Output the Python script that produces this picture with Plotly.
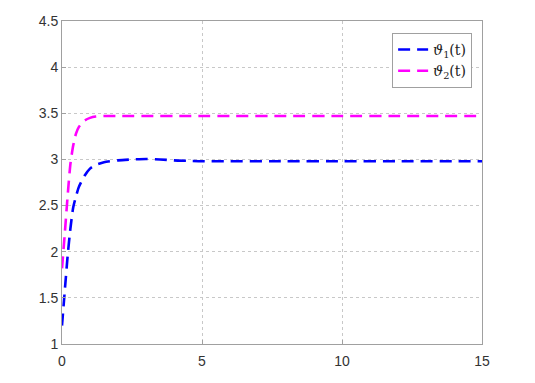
import plotly.graph_objects as go

t = [0, 0.1, 0.2, 0.3, 0.4, 0.5, 0.6, 0.8, 1.0, 1.2, 1.5, 2, 2.5, 3, 3.5, 4, 4.5, 5, 6, 8, 10, 12, 15]
theta1 = [1.2, 1.58, 1.95, 2.25, 2.48, 2.6, 2.7, 2.82, 2.9, 2.94, 2.97, 2.99, 3.0, 3.005, 3.0, 2.99, 2.985, 2.98, 2.98, 2.98, 2.98, 2.98, 2.98]
theta2 = [1.82, 2.2, 2.6, 2.95, 3.15, 3.28, 3.35, 3.42, 3.45, 3.465, 3.47, 3.47, 3.47, 3.47, 3.47, 3.47, 3.47, 3.47, 3.47, 3.47, 3.47, 3.47, 3.47]
names = ["<i>ϑ</i><sub>1</sub>(t)", "<i>ϑ</i><sub>2</sub>(t)"]
colors = ["#0000ff", "#ff00ff"]

fig = go.Figure()
for y, n, c in zip([theta1, theta2], names, colors):
    fig.add_trace(go.Scatter(x=t, y=y, mode="lines", name=n,
                             line=dict(color=c, width=2.6, dash="12px,7px", shape="spline", smoothing=0.6)))

axis_common = dict(showline=True, linecolor="#a0a0a0", linewidth=1, mirror=True,
                   showgrid=True, gridcolor="#c8c8c8", griddash="dot", gridwidth=1,
                   zeroline=False, ticks="inside", ticklen=4, tickcolor="#a0a0a0",
                   automargin=False,
                   tickfont=dict(family="Liberation Sans, Arial", size=14, color="#333333"))

fig.update_xaxes(range=[0, 15], tickvals=[0, 5, 10, 15], ticklabelstandoff=4, **axis_common)
fig.update_yaxes(range=[1, 4.5], tickvals=[1, 1.5, 2, 2.5, 3, 3.5, 4, 4.5],
                 ticktext=["1", "1.5", "2", "2.5", "3", "3.5", "4", "4.5"], **axis_common)

fig.update_layout(
    width=527, height=375,
    margin=dict(l=54, r=53, t=13, b=39),
    paper_bgcolor="white", plot_bgcolor="white",
    showlegend=True,
    legend=dict(x=0.786, y=0.963, xanchor="left", yanchor="top",
                bgcolor="white", bordercolor="#a0a0a0", borderwidth=1,
                font=dict(family="DejaVu Serif, Liberation Sans", size=14, color="#222222"),
                tracegroupgap=0, itemwidth=30),
)

fig.write_html("out.html")
